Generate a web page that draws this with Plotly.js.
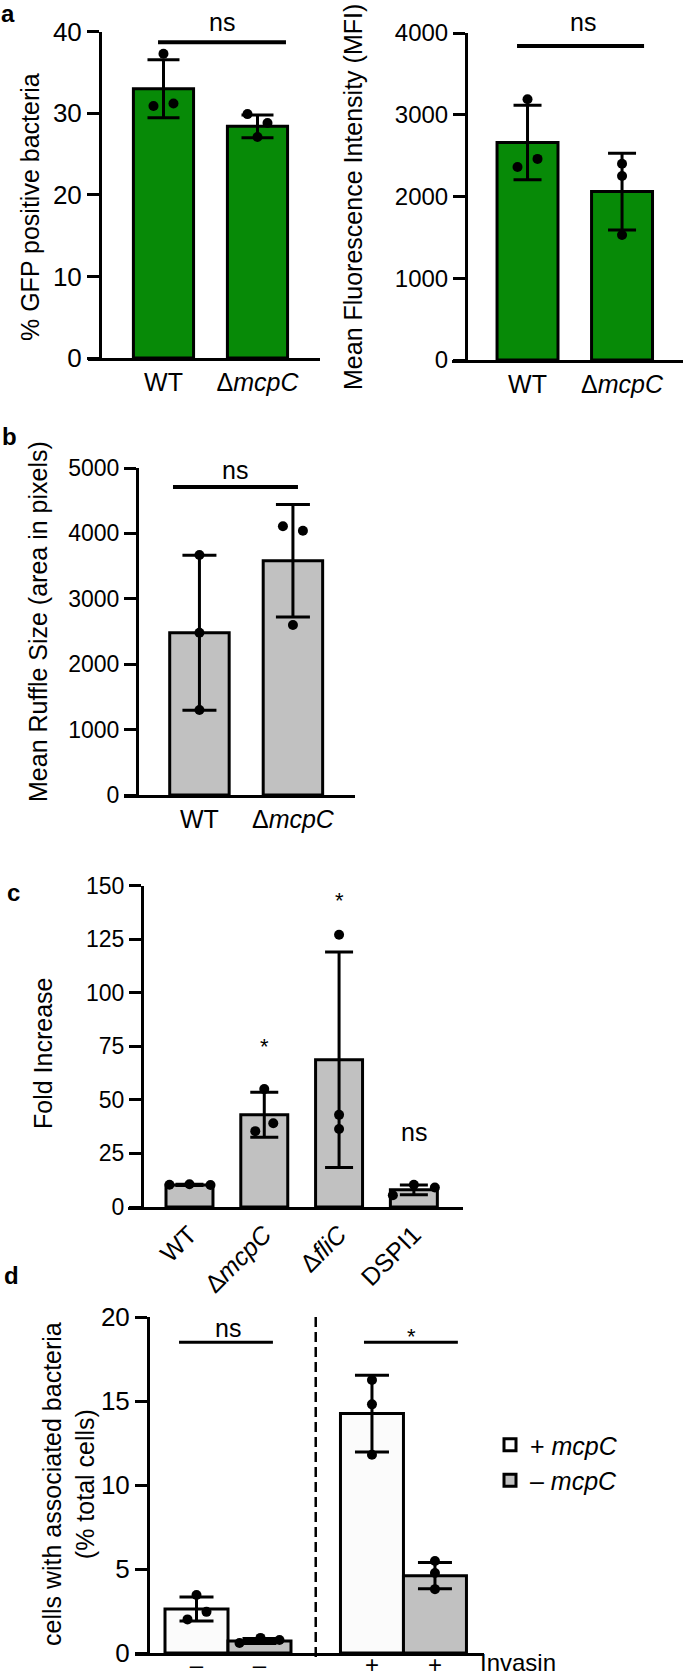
<!DOCTYPE html>
<html>
<head>
<meta charset="utf-8">
<script src="https://cdn.plot.ly/plotly-3.0.1.min.js"></script>
<style>
  html, body { margin: 0; padding: 0; background: #fff; }
  #fig { width: 685px; height: 1677px; }
</style>
</head>
<body>
<div id="fig"></div>
<script>
// panel a, left: % GFP positive bacteria
const aCats = ['WT', 'Δ<i>mcpC</i>'];
const aGfpMean = [33.0, 28.4];
const aGfpSd = [3.55, 1.4];
const aGfpPts = [[37.3, 30.9, 31.2], [29.9, 28.8, 27.1]];

// panel a, right: MFI
const aMfiMean = [2660, 2060];
const aMfiSd = [455, 470];
const aMfiPts = [[3190, 2360, 2460], [2400, 2250, 1530]];

// panel b: ruffle size
const bCats = ['WT', 'Δ<i>mcpC</i>'];
const bMean = [2480, 3580];
const bSd = [1185, 860];
const bPts = [[3670, 2480, 1300], [4110, 4040, 2600]];

// panel c: fold increase
const cCats = ['WT', 'Δ<i>mcpC</i>', 'Δ<i>fliC</i>', 'DSPI1'];
const cMean = [10.3, 43.0, 68.7, 8.0];
const cSd = [0.3, 10.5, 50.3, 2.3];
const cPts = [[10.4, 10.6, 10.3], [55.0, 39.1, 35.4], [127, 43, 36.4], [5.5, 10.4, 9.1]];
const cSig = ['', '*', '*', 'ns'];
const cSigY = [0, 75, 143, 35];

// panel d: cells with associated bacteria
const dInvasin = ['–', '+'];
const dSeries = ['+ <i>mcpC</i>', '– <i>mcpC</i>'];
const dMean = [[2.62, 14.25], [0.72, 4.6]];
const dSd = [[0.72, 2.28], [0.15, 0.78]];
const dPts = [[[3.45, 2.45, 2.0], [16.25, 14.8, 11.8]], [[0.6, 0.9, 0.77], [5.48, 4.76, 3.8]]];

// ---- layout helpers (pixel -> paper)
const W = 685, H = 1677;
const FONT = '"Liberation Sans", Arial, sans-serif';
const fx = p => p / W;
const fy = p => 1 - p / H;
const GREEN = '#078a07', GREY = '#c1c1c1', WHITE = '#fbfbfb';

function xAx(left, right, range, vals, text, size, anchor, angle) {
  return {
    domain: [fx(left), fx(right)], range: range, anchor: anchor,
    showline: true, linewidth: 3, linecolor: '#000', ticks: '',
    tickvals: vals, ticktext: text, tickangle: angle || 0,
    showgrid: false, zeroline: false, fixedrange: true,
    tickfont: {family: FONT, size: size, color: '#000'}
  };
}
function yAx(top, bottom, pos, range, dtick, size) {
  return {
    domain: [fy(bottom), fy(top)], range: range, anchor: 'free', position: fx(pos),
    showline: true, linewidth: 3, linecolor: '#000',
    ticks: 'outside', ticklen: 12, tickwidth: 3, tickcolor: '#000',
    dtick: dtick, showgrid: false, zeroline: false, fixedrange: true,
    tickfont: {family: FONT, size: size, color: '#000'}
  };
}
const idx = arr => arr.map((_, i) => i);

const traces = [];

// bars + sd + dots for one simple panel; jit = dot offsets in px
function simplePanel(ax, cats, mean, sd, pts, color, bw, capw, ppu, jit) {
  traces.push({
    type: 'bar', x: idx(cats), y: mean, width: bw, xaxis: 'x' + ax, yaxis: 'y' + ax,
    marker: {color: color, line: {color: '#000', width: 3}},
    error_y: {type: 'data', array: sd, color: '#000', thickness: 3, width: capw},
    showlegend: false, hoverinfo: 'skip'
  });
  const xs = [], ys = [];
  pts.forEach((g, i) => g.forEach((v, k) => { xs.push(i + jit[i][k] / ppu); ys.push(v); }));
  traces.push({
    type: 'scatter', mode: 'markers', x: xs, y: ys, xaxis: 'x' + ax, yaxis: 'y' + ax,
    marker: {color: '#000', size: 10}, showlegend: false, hoverinfo: 'skip', cliponaxis: false
  });
}

simplePanel('', aCats, aGfpMean, aGfpSd, aGfpPts, GREEN, 0.64, 16, 94, [[0, -10, 10], [-10, 10, 0]]);
simplePanel('2', aCats, aMfiMean, aMfiSd, aMfiPts, GREEN, 0.645, 14, 94.5, [[0, -10, 10], [0, 0, 0]]);
simplePanel('3', bCats, bMean, bSd, bPts, GREY, 0.636, 17, 93.5, [[0, 0, 0], [-10, 10, 0]]);
simplePanel('4', cCats, cMean, cSd, cPts, GREY, 0.628, 14, 74.8, [[-20, 0, 21], [0, 9, -9], [0, 0, 0], [-21, 0, 21]]);

// panel d: two series side by side in each invasin group
const dBw = 0.359, dPpu = 175.5;
const dJit = [[[0, 10, -9], [0, 0, 0]], [[-20, 1, 20], [0, 0, 0]]];
dSeries.forEach((name, s) => {
  const off = s === 0 ? -dBw : 0;
  traces.push({
    type: 'bar', name: name, x: idx(dInvasin), y: dMean[s], width: dBw, offset: off,
    xaxis: 'x5', yaxis: 'y5',
    marker: {color: s === 0 ? WHITE : GREY, line: {color: '#000', width: 3}},
    error_y: {type: 'data', array: dSd[s], color: '#000', thickness: 3, width: 17},
    hoverinfo: 'skip'
  });
});
dSeries.forEach((name, s) => {
  const xs = [], ys = [];
  dPts[s].forEach((g, i) => g.forEach((v, k) => {
    xs.push(i + (s === 0 ? -dBw / 2 : dBw / 2) + dJit[s][i][k] / dPpu); ys.push(v);
  }));
  traces.push({
    type: 'scatter', mode: 'markers', x: xs, y: ys, xaxis: 'x5', yaxis: 'y5',
    marker: {color: '#000', size: 10}, showlegend: false, hoverinfo: 'skip', cliponaxis: false
  });
});
const dTickVals = [], dTickText = [];
dInvasin.forEach((t, i) => { dTickVals.push(i - dBw / 2, i + dBw / 2); dTickText.push(t, t); });

// ---- annotations
const txt = (x, y, text, size, extra) => Object.assign({
  xref: 'paper', yref: 'paper', x: fx(x), y: fy(y), text: text, showarrow: false,
  font: {family: FONT, size: size, color: '#000'}, xanchor: 'center', yanchor: 'middle'
}, extra || {});
// x in data units, y in pixels
const sig = (ax, x, y, text, size) => ({
  xref: 'x' + ax, yref: 'paper', x: x, y: fy(y), text: text, showarrow: false,
  font: {family: FONT, size: size, color: '#000'}, xanchor: 'center', yanchor: 'middle'
});

const annotations = [
  txt(8, 14, '<b>a</b>', 24), txt(9, 437, '<b>b</b>', 24),
  txt(13, 892, '<b>c</b>', 24), txt(11, 1275, '<b>d</b>', 24),
  txt(30, 207, '% GFP positive bacteria', 25, {textangle: -90}),
  txt(353, 197, 'Mean Fluorescence Intensity (MFI)', 25, {textangle: -90}),
  txt(38, 622, 'Mean Ruffle Size (area in pixels)', 25, {textangle: -90}),
  txt(43, 1054, 'Fold Increase', 25, {textangle: -90}),
  txt(68, 1484, 'cells with associated bacteria<br>(% total cells)', 25, {textangle: -90}),
  txt(478, 1662, 'Invasin', 24, {xanchor: 'left'}),
  sig('', 0.623, 22, 'ns', 25),
  sig('2', 0.587, 22, 'ns', 25),
  sig('3', 0.38, 470, 'ns', 25),
  sig('5', 0, 1328, 'ns', 25),
  sig('5', 1.043, 1336, '*', 22)
];
const cPx = 1207, cPpu = 2.143;
cSig.forEach((s, i) => { if (s) annotations.push(sig('4', i, cPx - cSigY[i] * cPpu, s, s === '*' ? 22 : 25)); });

// ---- shapes: significance bars and the dashed divider
const bar = (ax, x0, x1, y, w) => ({
  type: 'line', xref: 'x' + ax, yref: 'y' + ax, x0: x0, x1: x1, y0: y, y1: y,
  line: {color: '#000', width: w}
});
const shapes = [
  bar('', -0.058, 1.303, 38.7, 4),
  bar('2', -0.111, 1.233, 3841, 4),
  bar('3', -0.283, 1.054, 4709, 4),
  bar('5', -0.279, 0.256, 18.5, 3),
  bar('5', 0.775, 1.31, 18.5, 3),
  {type: 'line', xref: 'x5', yref: 'paper', x0: 0.5, x1: 0.5, y0: fy(1657), y1: fy(1317),
   line: {color: '#000', width: 2.5, dash: '10px,5px'}}
];

const dx = xAx(135, 484, [-0.53, 1.459], dTickVals, dTickText, 24, 'y5');
dx.ticklabelstandoff = -12;

const layout = {
  width: W, height: H, margin: {l: 0, r: 0, t: 0, b: 0},
  paper_bgcolor: '#fff', plot_bgcolor: 'rgba(0,0,0,0)',
  font: {family: FONT, color: '#000'},
  barmode: 'overlay',
  xaxis: xAx(88, 320, [-0.803, 1.665], idx(aCats), aCats, 25, 'y'),
  yaxis: yAx(31.7, 358, 100, [0, 40], 10, 26),
  xaxis2: xAx(452, 683, [-0.799, 1.645], idx(aCats), aCats, 25, 'y2'),
  yaxis2: yAx(33, 360, 466, [0, 4000], 1000, 24),
  xaxis3: xAx(124, 355, [-0.807, 1.664], idx(bCats), bCats, 25, 'y3'),
  yaxis3: yAx(468, 795, 137, [0, 5000], 1000, 23),
  xaxis4: xAx(128, 463, [-0.822, 3.657], idx(cCats), cCats, 25, 'y4', -45),
  yaxis4: yAx(885.5, 1207, 142, [0, 150], 25, 23),
  xaxis5: dx,
  yaxis5: yAx(1317, 1653, 148, [0, 20], 5, 26),
  showlegend: true,
  legend: {x: fx(490), y: fy(1422), xanchor: 'left', yanchor: 'top',
           font: {family: FONT, size: 25, color: '#000'}, bgcolor: 'rgba(0,0,0,0)',
           tracegroupgap: 0, traceorder: 'normal'},
  annotations: annotations,
  shapes: shapes
};

Plotly.newPlot('fig', traces, layout, {displayModeBar: false, staticPlot: true});
</script>
</body>
</html>
